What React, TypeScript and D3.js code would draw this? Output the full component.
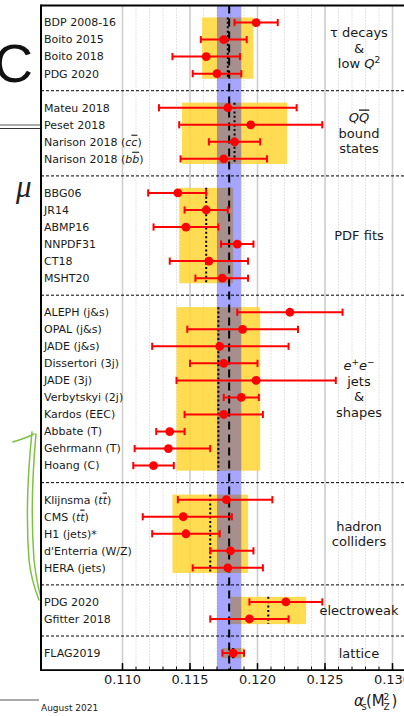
import React from "react";
import * as d3 from "d3";

// Individual determinations of alpha_s(M_Z^2), ordered by sub-field
const names = [
  "BDP 2008-16", "Boito 2015", "Boito 2018", "PDG 2020",
  "Mateu 2018", "Peset 2018", "Narison 2018 (_c^c)", "Narison 2018 (_b^b)",
  "BBG06", "JR14", "ABMP16", "NNPDF31", "CT18", "MSHT20",
  "ALEPH (j&s)", "OPAL (j&s)", "JADE (j&s)", "Dissertori (3j)", "JADE (3j)",
  "Verbytskyi (2j)", "Kardos (EEC)", "Abbate (T)", "Gehrmann (T)", "Hoang (C)",
  "Klijnsma (_t^t)", "CMS (_t^t)", "H1 (jets)*", "d'Enterria (W/Z)", "HERA (jets)",
  "PDG 2020", "Gfitter 2018",
  "FLAG2019",
];
const centralValues = [
  0.1199, 0.1175, 0.1162, 0.1170,
  0.1178, 0.1195, 0.1183, 0.1175,
  0.1141, 0.1162, 0.1147, 0.1185, 0.1164, 0.1174,
  0.1224, 0.1189, 0.1172, 0.1175, 0.1199, 0.1188, 0.1175, 0.1135, 0.1134, 0.1123,
  0.1177, 0.1145, 0.1147, 0.1180, 0.1178,
  0.1221, 0.1194,
  0.1182,
];
const errorsDown = [
  0.0016, 0.0017, 0.0025, 0.0018,
  0.0051, 0.0053, 0.0019, 0.0032,
  0.0022, 0.0016, 0.0024, 0.0012, 0.0029, 0.0020,
  0.0039, 0.0041, 0.0050, 0.0025, 0.0059, 0.0013, 0.0029, 0.0010, 0.0025, 0.0015,
  0.0036, 0.0030, 0.0025, 0.0015, 0.0026,
  0.0027, 0.0029,
  0.0008,
];
const errorsUp = [
  0.0016, 0.0017, 0.0025, 0.0018,
  0.0051, 0.0053, 0.0019, 0.0032,
  0.0021, 0.0016, 0.0024, 0.0012, 0.0029, 0.0019,
  0.0039, 0.0041, 0.0051, 0.0025, 0.0059, 0.0013, 0.0029, 0.0011, 0.0031, 0.0015,
  0.0034, 0.0036, 0.0025, 0.0017, 0.0026,
  0.0027, 0.0029,
  0.0008,
];

// Sub-fields: number of entries, pre-average and its uncertainty
const groupSizes = [4, 4, 6, 10, 5, 2, 1];
const preAverages = [0.1178, 0.1183, 0.1162, 0.1171, 0.1165, 0.1208, 0.1182];
const preAverageErrors = [0.0019, 0.0039, 0.0020, 0.0031, 0.0028, 0.0028, 0.0008];

// World average
const worldAverage = 0.1179;
const worldAverageError = 0.0009;

const majorTicks = [0.110, 0.115, 0.120, 0.125, 0.130];
const minorTicks = d3.range(110, 132).map((k) => k / 1000);

const FONT = "DejaVu Sans, sans-serif";
const TEXT = "#1a1a1a";

const x = d3.scaleLinear().domain([0.110, 0.130]).range([122.5, 392.5]);
// rows: one slot per measurement, separators take a slot of their own
const y = d3.scaleLinear().domain([-1, 38]).range([5.5, 670.1]);

const plotLeft = 41;
const plotRight = x(0.1318);
const plotTop = y(-1);
const plotBottom = y(38);

// row slot of every measurement and of every separator
const groupStarts: number[] = [];
const rowOf: number[] = [];
{
  let slot = 0;
  groupSizes.forEach((n) => {
    groupStarts.push(slot);
    for (let i = 0; i < n; i++) rowOf.push(slot + i);
    slot += n + 1;
  });
}
const separatorRows = groupSizes.slice(0, -1).map((n, g) => groupStarts[g] + n);

// "_c" -> italic c, "^c" -> italic c with overline
function richSegments(text: string) {
  const segs: { t: string; italic?: boolean; bar?: boolean }[] = [];
  let buf = "";
  for (let i = 0; i < text.length; i++) {
    const ch = text[i];
    if ((ch === "_" || ch === "^") && i + 1 < text.length) {
      if (buf) segs.push({ t: buf });
      buf = "";
      segs.push({ t: text[i + 1], italic: true, bar: ch === "^" });
      i++;
    } else buf += ch;
  }
  if (buf) segs.push({ t: buf });
  return segs;
}

function RowLabel({ text, yy }: { text: string; yy: number }) {
  return (
    <text x={44} y={yy} dy="0.35em" fontFamily={FONT} fontSize={11} fill={TEXT}>
      {richSegments(text).map((s, i) => (
        <tspan
          key={i}
          fontStyle={s.italic ? "italic" : undefined}
          style={s.bar ? { textDecoration: "overline" } : undefined}
        >
          {s.t}
        </tspan>
      ))}
    </text>
  );
}

function GroupTitle({ g }: { g: number }) {
  const center = y(groupStarts[g] + (groupSizes[g] - 1) / 2);
  const cx = 359;
  const lh = 15.4;
  const common = { x: cx, textAnchor: "middle" as const, fontFamily: FONT, fontSize: 13, fill: TEXT, dy: "0.35em" };
  if (g === 0)
    return (
      <g>
        <text {...common} y={center - lh}>τ decays</text>
        <text {...common} y={center}>&amp;</text>
        <text {...common} y={center + lh}>
          low <tspan fontStyle="italic">Q</tspan>
          <tspan fontSize={9} dy="-5">2</tspan>
        </text>
      </g>
    );
  if (g === 1)
    return (
      <g>
        <text {...common} y={center - lh}>
          <tspan fontStyle="italic">Q</tspan>
          <tspan fontStyle="italic" style={{ textDecoration: "overline" }}>Q</tspan>
        </text>
        <text {...common} y={center}>bound</text>
        <text {...common} y={center + lh}>states</text>
      </g>
    );
  if (g === 2) return <text {...common} y={center}>PDF fits</text>;
  if (g === 3)
    return (
      <g>
        <text {...common} y={center - 1.5 * lh}>
          <tspan fontStyle="italic">e</tspan>
          <tspan fontSize={9} dy="-5">+</tspan>
          <tspan fontStyle="italic" dy="5">e</tspan>
          <tspan fontSize={9} dy="-5">−</tspan>
        </text>
        <text {...common} y={center - 0.5 * lh}>jets</text>
        <text {...common} y={center + 0.5 * lh}>&amp;</text>
        <text {...common} y={center + 1.5 * lh}>shapes</text>
      </g>
    );
  if (g === 4)
    return (
      <g>
        <text {...common} y={center - lh / 2}>hadron</text>
        <text {...common} y={center + lh / 2}>colliders</text>
      </g>
    );
  if (g === 5) return <text {...common} y={center}>electroweak</text>;
  return <text {...common} y={center}>lattice</text>;
}

export default function App() {
  const boxHalf = 0.3;
  const capHalf = 3.6;
  return (
    <div style={{ position: "absolute", left: 0, top: 0 }}>
      <svg width={404} height={716} style={{ display: "block", background: "#fff" }}>
        {/* slide fragments beside the figure */}
        <text x={33} y={82} textAnchor="end" fontFamily="Liberation Sans, sans-serif" fontSize={54} fill="#111">C</text>
        <line x1={0} x2={40} y1={125} y2={125} stroke="#555" strokeWidth={1} />
        <line x1={0} x2={40} y1={128.5} y2={128.5} stroke="#333" strokeWidth={1} />
        <text x={16} y={197} fontFamily="Liberation Serif, serif" fontStyle="italic" fontSize={31} fill="#222">μ</text>
        <line x1={0} x2={39} y1={700} y2={700} stroke="#555" strokeWidth={1} />
        <text x={41} y={710.5} fontFamily={FONT} fontSize={9} fill={TEXT}>August 2021</text>
        <g fill="none" stroke="#7cc242" strokeWidth={1.5} strokeLinecap="round">
          <path d="M13,442 C19,440 26,438 34,434" />
          <path d="M32,432 C28,470 26,520 29,560 C31,578 35,590 39,600" />
          <path d="M36,434 C32,478 31,520 34,560 C36,577 38,588 41,597" />
        </g>

        {/* grid */}
        {minorTicks.map((v) => (
          <line key={"mg" + v} x1={x(v)} x2={x(v)} y1={plotTop} y2={plotBottom}
            stroke="#c8c8c8" strokeWidth={1} strokeDasharray="1,2" />
        ))}
        {majorTicks.map((v) => (
          <line key={"Mg" + v} x1={x(v)} x2={x(v)} y1={plotTop} y2={plotBottom}
            stroke="#cfcfcf" strokeWidth={1.6} />
        ))}

        {/* pre-averages of the sub-fields */}
        {preAverages.map((v, g) => (
          <rect key={"pb" + g}
            x={x(v - preAverageErrors[g])}
            width={x(v + preAverageErrors[g]) - x(v - preAverageErrors[g])}
            y={y(groupStarts[g] - boxHalf)}
            height={y(groupStarts[g] + groupSizes[g] - 1 + boxHalf) - y(groupStarts[g] - boxHalf)}
            fill="#ffd633" fillOpacity={0.85} />
        ))}

        {/* world average band */}
        <rect x={x(worldAverage - worldAverageError)}
          width={x(worldAverage + worldAverageError) - x(worldAverage - worldAverageError)}
          y={plotTop} height={plotBottom - plotTop} fill="#0000ff" fillOpacity={0.35} />

        {preAverages.map((v, g) => (
          <line key={"pl" + g} x1={x(v)} x2={x(v)}
            y1={y(groupStarts[g] - boxHalf)} y2={y(groupStarts[g] + groupSizes[g] - 1 + boxHalf)}
            stroke="#000" strokeWidth={2} strokeDasharray="2,2.4" />
        ))}
        <line x1={x(worldAverage)} x2={x(worldAverage)} y1={plotTop} y2={plotBottom}
          stroke="#000" strokeWidth={2} strokeDasharray="8,5" />

        {/* separators between sub-fields */}
        {separatorRows.map((r) => (
          <line key={"sep" + r} x1={plotLeft} x2={plotRight} y1={y(r)} y2={y(r)}
            stroke="#000" strokeWidth={1} strokeDasharray="3,2" />
        ))}

        {/* measurements */}
        {centralValues.map((v, i) => {
          const yy = y(rowOf[i]);
          const lo = x(v - errorsDown[i]);
          const hi = x(v + errorsUp[i]);
          return (
            <g key={"m" + i} stroke="#ff0000" strokeWidth={2}>
              <line x1={lo} x2={hi} y1={yy} y2={yy} />
              <line x1={lo} x2={lo} y1={yy - capHalf} y2={yy + capHalf} />
              <line x1={hi} x2={hi} y1={yy - capHalf} y2={yy + capHalf} />
              <circle cx={x(v)} cy={yy} r={4.4} fill="#ff0000" stroke="none" />
            </g>
          );
        })}

        {/* axes frame */}
        <line x1={plotLeft} x2={plotLeft} y1={plotTop - 1} y2={plotBottom + 1} stroke="#000" strokeWidth={2} />
        <line x1={plotLeft} x2={plotRight} y1={plotTop} y2={plotTop} stroke="#000" strokeWidth={2} />
        <line x1={plotLeft} x2={plotRight} y1={plotBottom} y2={plotBottom} stroke="#000" strokeWidth={1.8} />
        {minorTicks.map((v) => (
          <line key={"mt" + v} x1={x(v)} x2={x(v)} y1={plotBottom} y2={plotBottom - 3.5} stroke="#000" strokeWidth={1} />
        ))}
        {majorTicks.map((v) => (
          <g key={"Mt" + v}>
            <line x1={x(v)} x2={x(v)} y1={plotBottom} y2={plotBottom - 7} stroke="#000" strokeWidth={1.5} />
            <text x={x(v)} y={plotBottom + 5} dy="0.71em" textAnchor="middle" fontFamily={FONT} fontSize={13} fill={TEXT}>
              {d3.format(".3f")(v)}
            </text>
          </g>
        ))}

        {/* labels */}
        {names.map((n, i) => (
          <RowLabel key={"lab" + i} text={n} yy={y(rowOf[i])} />
        ))}
        {groupSizes.map((_, g) => (
          <GroupTitle key={"gt" + g} g={g} />
        ))}

        {/* axis title */}
        <g fontFamily={FONT} fill={TEXT}>
          <text x={354} y={706} fontSize={15} fontStyle="italic">α</text>
          <text x={361.5} y={709.5} fontSize={10}>s</text>
          <text x={366} y={706} fontSize={15}>(M</text>
          <text x={383.5} y={699.5} fontSize={9}>2</text>
          <text x={383.5} y={710} fontSize={9}>Z</text>
          <text x={391.5} y={706} fontSize={15}>)</text>
        </g>
      </svg>
    </div>
  );
}
